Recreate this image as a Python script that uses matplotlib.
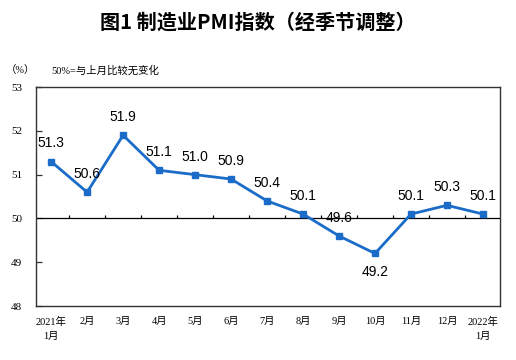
import matplotlib.pyplot as plt

plt.rcParams['font.family'] = ['Noto Sans CJK SC', 'DejaVu Sans']

months = ['2021年\n1月', '2月', '3月', '4月', '5月', '6月', '7月', '8月',
          '9月', '10月', '11月', '12月', '2022年\n1月']
pmi = [51.3, 50.6, 51.9, 51.1, 51.0, 50.9, 50.4, 50.1, 49.6, 49.2, 50.1, 50.3, 50.1]
label_below = [False] * 9 + [True] + [False] * 3

serif_cjk = ['Liberation Serif', 'Noto Sans CJK SC']

fig = plt.figure(figsize=(5.16, 3.6), dpi=100)
ax = fig.add_axes([0.0698, 0.15, 0.899, 0.608])

x = list(range(len(pmi)))
ax.plot(x, pmi, color='#1a6cc8', lw=2, marker='s', ms=4.5, zorder=3)
ax.axhline(50, color='black', lw=0.9, zorder=2)
# small category-boundary ticks on the 50 line
ax.vlines([i + 0.5 for i in x[:-1]], 50, 50.09, color='black', lw=0.9, zorder=2)

for xi, v, below in zip(x, pmi, label_below):
    if below:
        ax.annotate(f'{v:.1f}', (xi, v), xytext=(0, -8), textcoords='offset points',
                    ha='center', va='top', fontsize=10, family='Liberation Sans')
    else:
        ax.annotate(f'{v:.1f}', (xi, v), xytext=(0, 8), textcoords='offset points',
                    ha='center', va='bottom', fontsize=10, family='Liberation Sans')

ax.set_xlim(-0.42, 12.47)
ax.set_ylim(48, 53)
ax.set_yticks([48, 49, 50, 51, 52, 53])
ax.set_xticks(x)
ax.set_xticklabels(months, fontsize=7.5, linespacing=1.6, family=serif_cjk)
for lab in ax.get_yticklabels():
    lab.set_family(serif_cjk)
    lab.set_fontsize(8)
ax.tick_params(axis='x', length=0, pad=8)
ax.tick_params(axis='y', direction='in', length=4, width=0.9, color='#333333', pad=10)
for s in ax.spines.values():
    s.set_color('#333333')
    s.set_linewidth(1)

fig.text(0.5, 0.938, '图1 制造业PMI指数（经季节调整）', ha='center', va='center',
         fontsize=14.5, fontweight='bold')
fig.text(0.012, 0.805, '（%）', fontsize=7.5, va='center', family=serif_cjk)
fig.text(0.1, 0.805, '50%=与上月比较无变化', fontsize=7.5, va='center', family=serif_cjk)

fig.savefig('out.png', dpi=100)
